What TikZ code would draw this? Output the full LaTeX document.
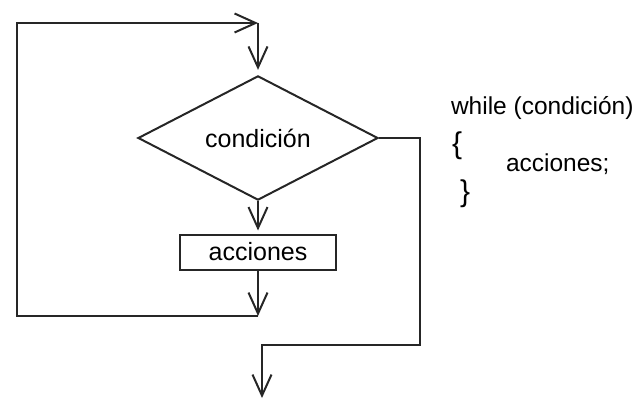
\documentclass[tikz,border=0pt]{standalone}
\usepackage{fontspec}
\setmainfont{Liberation Sans}
\usetikzlibrary{arrows.meta,shapes.geometric}

\begin{document}
\begin{tikzpicture}[x=1pt,y=-1pt,>={Straight Barb[length=21pt,width=19pt]},
  line width=2pt,draw=black!85,
  cond node/.style={diamond,draw,minimum width=240pt,minimum height=118pt,inner sep=0pt,font=\fontsize{25}{30}\selectfont},
  act node/.style={rectangle,draw,minimum width=156pt,minimum height=35pt,inner sep=0pt,font=\fontsize{25}{30}\selectfont},
  code text/.style={anchor=base west,inner sep=0pt,font=\fontsize{24.5}{30}\selectfont},
  brace text/.style={anchor=base west,inner sep=0pt,font=\fontsize{30}{34}\selectfont}]

\useasboundingbox (0,0) rectangle (636,403);

\node[cond node](D1) at (258,138) {condición};
\node[act node](A1) at (258,252) {acciones};

\coordinate (J1) at (258,23);
\coordinate (J2) at (258,316);
\coordinate (L1) at (17,316);
\coordinate (R1) at (420,138);
\coordinate (T1) at (420,345);
\coordinate (T2) at (262,345);
\coordinate (E1) at (262,398);

\node[code text](W1) at (450,115) {while (condición)};
\node[brace text](B1) at (451,154) {\{};
\node[code text](A2) at (505,172) {acciones;};
\node[brace text](B2) at (459,202) {\}};

\draw[->,shorten >=5pt] (J1) -- (D1.north);
\draw[->,shorten >=3pt] (D1.south) -- (A1.north);
\draw[->] (A1.south) -- (J2);
\draw[->] (J2) -- (L1) |- (J1);
\draw[->] (D1.east) -- (R1) -- (T1) -- (T2) -- (E1);
\end{tikzpicture}
\end{document}
